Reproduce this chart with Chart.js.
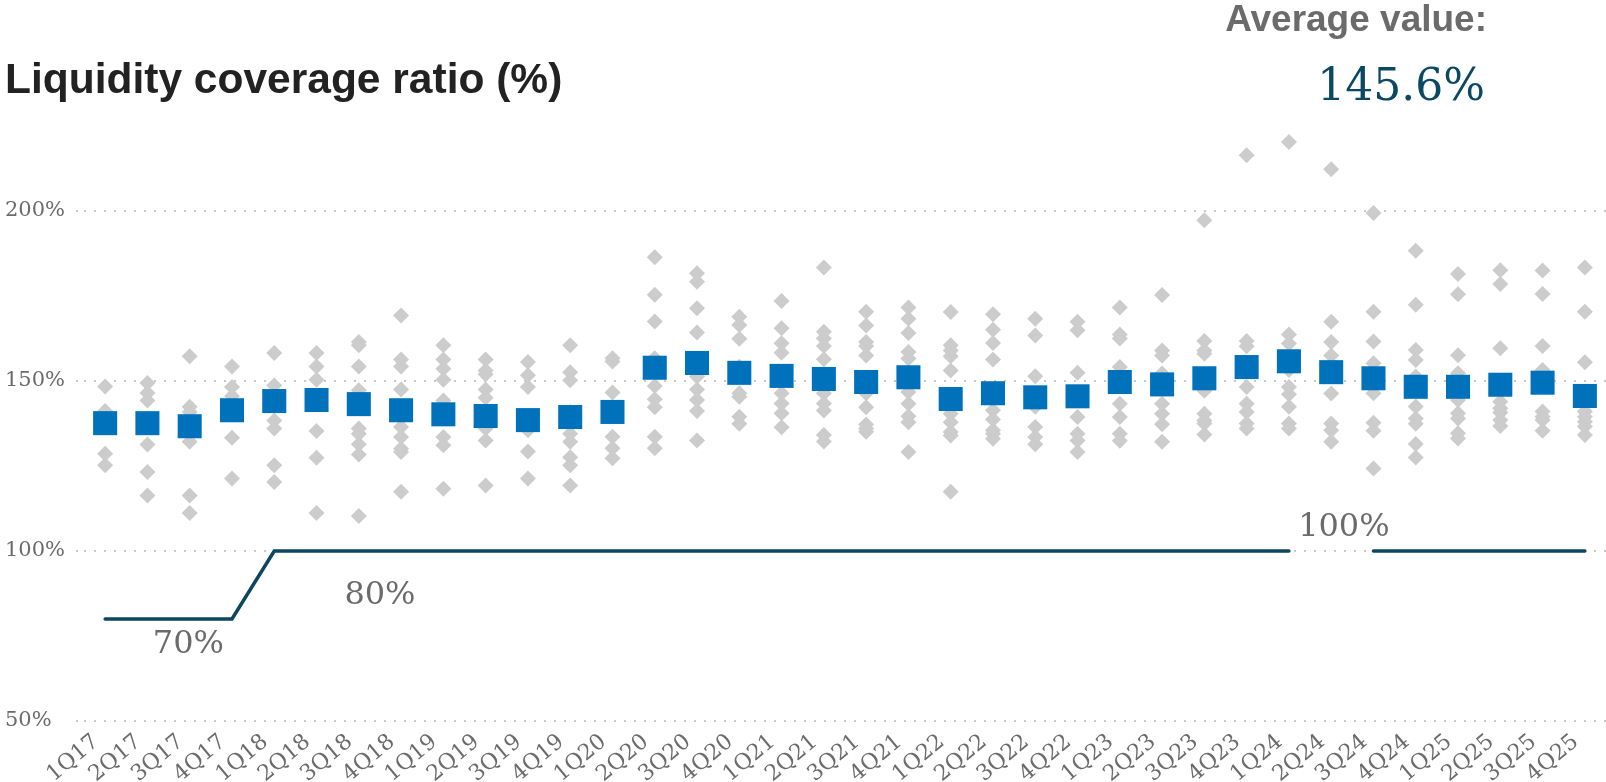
<!DOCTYPE html>
<html>
<head>
<meta charset="utf-8">
<title>Liquidity coverage ratio</title>
<script src="https://cdn.jsdelivr.net/npm/chart.js@4.4.1/dist/chart.umd.min.js"></script>
<style>
  html, body { margin: 0; padding: 0; background: #fff; }
  #wrap { position: relative; width: 1606px; height: 782px; overflow: hidden; }
  #wrap canvas { position: absolute; left: 0; top: 0; }
  #title {
    position: absolute; left: 5px; top: 58px; white-space: nowrap;
    font: bold 42.5px "Liberation Sans", Arial, sans-serif; line-height: 42px; color: #222;
  }
  #avgLabel {
    position: absolute; right: 119px; top: 1px; white-space: nowrap;
    font: bold 37px "Liberation Sans", Arial, sans-serif; line-height: 36px; color: #6b6b6b;
  }
  #avgValue {
    position: absolute; right: 121px; top: 63px; white-space: nowrap;
    font: 44px "DejaVu Serif", serif; line-height: 44px; color: #0b4864;
  }
</style>
</head>
<body>
<div id="wrap">
  <canvas id="lcr" width="1606" height="782"></canvas>
  <div id="title">Liquidity coverage ratio (%)</div>
  <div id="avgLabel">Average value:</div>
  <div id="avgValue"></div>
</div>
<script>
// Quarters on the x axis
const quarters = [
  '1Q17','2Q17','3Q17','4Q17','1Q18','2Q18','3Q18','4Q18','1Q19','2Q19','3Q19','4Q19',
  '1Q20','2Q20','3Q20','4Q20','1Q21','2Q21','3Q21','4Q21','1Q22','2Q22','3Q22','4Q22',
  '1Q23','2Q23','3Q23','4Q23','1Q24','2Q24','3Q24','4Q24','1Q25','2Q25','3Q25','4Q25'
];

// Average LCR per quarter (%)
const averages = [
  137.6, 137.6, 136.7, 141.4, 144.1, 144.4, 143.2, 141.4, 140.2, 139.7, 138.5, 139.4,
  140.9, 153.9, 155.3, 152.4, 151.5, 150.6, 149.7, 151.1, 144.7, 146.4, 145.2, 145.5,
  149.7, 149.0, 150.8, 154.1, 155.8, 152.6, 150.8, 148.3, 148.3, 148.9, 149.5, 145.6
];

// Regulatory minimum (%); the break leaves room for its label
const requirement = [
  80, 80, 80, 80, 100, 100, 100, 100, 100, 100, 100, 100,
  100, 100, 100, 100, 100, 100, 100, 100, 100, 100, 100, 100,
  100, 100, 100, 100, 100, null, 100, 100, 100, 100, 100, 100
];

// Individual bank ratios per quarter (%)
const bankValues = [
  [148.4, 141.2, 128.6, 125.2],
  [149.4, 146.5, 144.3, 131.3, 123.2, 116.3],
  [157.3, 142.4, 140.9, 132.1, 116.3, 111.2],
  [154.3, 148.2, 145.5, 133.3, 121.3],
  [158.2, 148.7, 138.4, 136.0, 125.2, 120.3],
  [158.2, 154.3, 150.4, 135.3, 127.4, 111.2],
  [161.5, 160.5, 154.3, 147.3, 136.0, 134.5, 131.4, 128.4, 110.3],
  [169.3, 156.3, 154.3, 147.5, 136.5, 133.5, 130.1, 129.1, 117.4],
  [160.5, 156.3, 153.6, 150.4, 144.3, 133.5, 131.1, 118.3],
  [156.3, 153.1, 152.0, 147.5, 145.1, 136.0, 132.5, 119.3],
  [155.6, 151.7, 148.2, 135.5, 129.3, 121.3],
  [160.5, 152.6, 150.2, 140.9, 134.5, 132.1, 127.6, 125.2, 119.3],
  [156.7, 155.7, 146.6, 133.6, 130.2, 127.3],
  [186.4, 175.4, 167.5, 156.7, 148.5, 144.6, 142.3, 133.6, 130.2],
  [181.7, 179.2, 171.4, 164.3, 151.3, 147.5, 144.4, 141.2, 132.5],
  [168.9, 166.5, 162.4, 154.2, 146.4, 145.4, 139.5, 137.4],
  [173.5, 165.5, 161.1, 158.3, 146.4, 143.4, 140.5, 136.4],
  [183.4, 164.5, 162.5, 160.3, 156.4, 146.4, 143.4, 141.3, 134.1, 132.2],
  [170.4, 166.3, 161.5, 160.3, 157.5, 146.4, 142.3, 137.2, 136.0, 135.1],
  [171.6, 168.3, 164.1, 158.5, 156.6, 146.8, 143.3, 139.6, 137.9, 129.1],
  [170.3, 160.5, 159.0, 157.3, 153.1, 140.4, 137.9, 135.0, 134.0, 117.4],
  [169.6, 165.1, 161.2, 156.3, 141.4, 138.7, 135.5, 134.5, 133.0],
  [168.3, 163.4, 151.4, 142.4, 136.5, 133.5, 131.4],
  [167.4, 164.9, 152.4, 139.4, 134.5, 132.5, 129.1],
  [171.6, 163.7, 162.5, 154.1, 143.3, 139.4, 134.5, 132.4],
  [175.3, 159.0, 157.5, 152.2, 143.3, 140.4, 137.3, 132.1],
  [197.3, 161.8, 159.0, 158.0, 147.1, 140.4, 138.4, 137.5, 134.3],
  [216.4, 161.8, 160.2, 148.2, 143.3, 140.9, 137.5, 136.0],
  [220.3, 163.7, 161.0, 153.2, 148.2, 146.1, 142.4, 137.5, 136.0],
  [212.3, 167.4, 161.5, 157.5, 146.3, 137.5, 135.5, 132.1],
  [199.4, 170.4, 161.6, 155.2, 146.4, 137.7, 135.4, 124.3],
  [188.3, 172.4, 159.1, 156.2, 151.3, 142.5, 139.0, 137.4, 131.5, 127.5],
  [181.5, 175.5, 157.6, 152.3, 144.4, 140.5, 139.0, 134.6, 133.1],
  [182.6, 178.5, 159.6, 143.9, 142.0, 140.7, 138.5, 136.8],
  [182.5, 175.6, 160.3, 153.2, 141.0, 139.5, 138.5, 135.4],
  [183.4, 170.4, 155.5, 141.0, 139.5, 138.0, 136.6, 134.1]
];

// Labels for the regulatory minimum steps
const requirementLabels = ['70%', '80%', '100%'];

// Y axis tick values
const yTickValues = [50, 100, 150, 200];

const scatterPoints = [];
bankValues.forEach((vals, i) => vals.forEach(v => scatterPoints.push({ x: quarters[i], y: v })));

document.getElementById('avgValue').textContent =
  averages[averages.length - 1].toFixed(1) + '%';

const SERIF = '"DejaVu Serif", serif';
const GREY_TEXT = '#6b6b6b';

// Draws the step labels next to the regulatory line
const stepLabelPlugin = {
  id: 'stepLabels',
  afterDatasetsDraw(chart, args, opts) {
    const { ctx, scales: { x, y } } = chart;
    ctx.save();
    ctx.font = opts.font;
    ctx.fillStyle = opts.color;
    ctx.textAlign = 'center';
    ctx.textBaseline = 'middle';
    opts.anchors.forEach((a, k) => {
      ctx.fillText(requirementLabels[k], x.getPixelForValue(a.x), y.getPixelForValue(a.y));
    });
    ctx.restore();
  }
};

new Chart(document.getElementById('lcr'), {
  type: 'line',
  data: {
    labels: quarters,
    datasets: [
      {
        label: 'Average',
        data: averages,
        showLine: false,
        pointStyle: 'rect',
        pointRadius: 17,
        pointBorderWidth: 0,
        pointBackgroundColor: '#0071bb',
        pointBorderColor: '#0071bb'
      },
      {
        label: 'Banks',
        data: scatterPoints,
        showLine: false,
        pointStyle: 'rectRot',
        pointRadius: 8,
        pointBorderWidth: 0,
        pointBackgroundColor: '#cccccc',
        pointBorderColor: '#cccccc'
      },
      {
        label: 'Requirement',
        data: requirement,
        borderColor: '#0c4660',
        borderWidth: 3.5,
        pointRadius: 0,
        tension: 0,
        spanGaps: false,
        borderCapStyle: 'round'
      }
    ]
  },
  options: {
    responsive: false,
    animation: false,
    events: [],
    layout: { autoPadding: false, padding: { top: 109, left: 5, right: 0, bottom: 0 } },
    plugins: {
      legend: { display: false },
      tooltip: { enabled: false },
      stepLabels: {
        font: '32px ' + SERIF,
        color: GREY_TEXT,
        anchors: [ { x: 1.97, y: 72.5 }, { x: 6.5, y: 87.0 }, { x: 29.3, y: 106.8 } ]
      }
    },
    scales: {
      x: {
        type: 'category',
        offset: true,
        grid: { display: false },
        border: { display: false },
        ticks: {
          autoSkip: false,
          minRotation: 40,
          maxRotation: 40,
          padding: 0,
          labelOffset: -9,
          color: GREY_TEXT,
          font: { family: SERIF, size: 22 }
        },
        afterFit(scale) {
          scale.height = 61;
          scale.paddingLeft = 0;
          scale.paddingRight = 0;
        }
      },
      y: {
        min: 50,
        max: 230,
        border: { display: false, dash: [2, 8] },
        grid: {
          color: '#c8c8c8',
          lineWidth: 2,
          drawTicks: true,
          tickLength: 8,
          tickBorderDash: [2, 8],
          tickColor: '#c8c8c8',
          tickWidth: 2
        },
        ticks: {
          crossAlign: 'far',
          color: GREY_TEXT,
          font: { family: SERIF, size: 21 },
          callback: v => v + '%'
        },
        afterBuildTicks(scale) { scale.ticks = yTickValues.map(v => ({ value: v })); },
        afterFit(scale) { scale.width = 79; }
      }
    }
  },
  plugins: [stepLabelPlugin]
});
</script>
</body>
</html>
